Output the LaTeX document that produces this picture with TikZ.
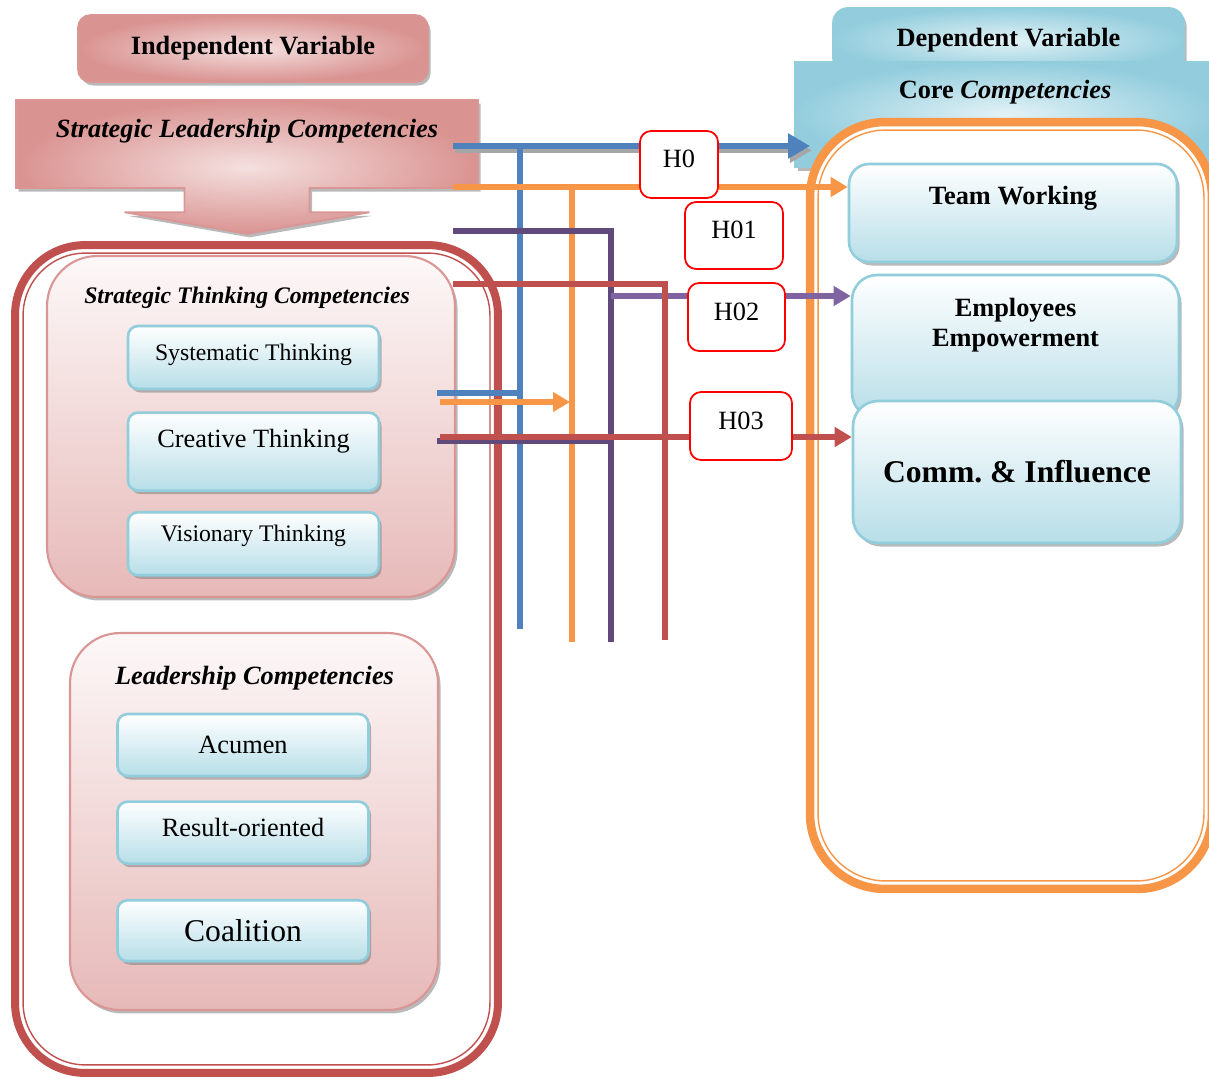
\documentclass[tikz,border=0pt]{standalone}
\usepackage{fontspec}
\setmainfont{Liberation Serif}
\usetikzlibrary{arrows.meta}
\usetikzlibrary{positioning}
\usetikzlibrary{calc}
\usetikzlibrary{shapes.arrows}
\usetikzlibrary{shadows}

\definecolor{pinkEdge}{HTML}{D99694}
\definecolor{pinkDark}{HTML}{D99391}
\definecolor{pinkLight}{HTML}{F4E0DF}
\definecolor{pinkTop}{HTML}{FDF8F8}
\definecolor{pinkBottom}{HTML}{E6B9B8}
\definecolor{frameRed}{HTML}{C0504D}
\definecolor{skyEdge}{HTML}{92CDDC}
\definecolor{skyBottom}{HTML}{B7DEE8}
\definecolor{skyDark}{HTML}{93CDDD}
\definecolor{skyLight}{HTML}{E2F2F6}
\definecolor{orangeLine}{HTML}{F79646}
\definecolor{lineBlue}{HTML}{4F81BD}
\definecolor{purpleDark}{HTML}{604A7B}
\definecolor{purpleLight}{HTML}{8064A2}

\begin{document}
\begin{tikzpicture}[
    x=0.02cm, y=-0.02cm,
    shadowed/.style={
        drop shadow={shadow xshift=1.5pt, shadow yshift=-2pt, fill=black!50, opacity=0.55}
    },
    headBox/.style={
        rectangle, draw=pinkEdge, line width=1pt, rounded corners=0.25cm,
        inner color=pinkLight, outer color=pinkDark, shadowed,
        font=\fontsize{15}{17}\selectfont\bfseries
    },
    leadArrow/.style={
        shape=arrow box, draw=pinkEdge, line width=1pt,
        inner color=pinkLight, outer color=pinkDark, shadowed,
        arrow box north arrow=0pt, arrow box east arrow=0pt,
        arrow box west arrow=0pt, arrow box south arrow=0.9cm,
        arrow box shaft width=2.5cm, arrow box head extend=1.2cm,
        arrow box tip angle=160,
        font=\fontsize{15}{17}\selectfont\bfseries\itshape
    },
    redFrame/.style={
        rectangle, draw=frameRed, line width=0.16cm, rounded corners=1.4cm,
        outer sep=0pt
    },
    orangeFrame/.style={
        rectangle, draw=orangeLine, fill=white, line width=0.17cm,
        rounded corners=1.5cm, outer sep=0pt
    },
    groupBox/.style={
        rectangle, draw=pinkEdge, line width=1.2pt, rounded corners=1cm,
        top color=pinkTop, bottom color=pinkBottom, shadowed
    },
    groupTitle/.style={font=\fontsize{15}{17}\selectfont\bfseries\itshape},
    skillBox/.style={
        rectangle, draw=skyEdge, line width=1.5pt, rounded corners=0.2cm,
        top color=white, bottom color=skyBottom, shadowed,
        minimum width=5.02cm, minimum height=1.26cm,
        font=\fontsize{15}{17}\selectfont
    },
    tabBox/.style={
        rectangle, draw=skyEdge, line width=1pt, rounded corners=0.3cm,
        inner color=skyLight, outer color=skyDark, shadowed,
        font=\fontsize{15}{17}\selectfont\bfseries
    },
    compBox/.style={
        rectangle, draw=skyEdge, line width=1.5pt, rounded corners=0.5cm,
        top color=white, bottom color=skyBottom, shadowed,
        font=\fontsize{15}{17}\selectfont\bfseries
    },
    hypoBox/.style={
        rectangle, draw=red, line width=1pt, rounded corners=0.22cm,
        fill=white, text depth=0.22cm,
        font=\fontsize{15}{17}\selectfont
    },
    link/.style={line width=0.12cm},
    bigHead/.style={-{Triangle[length=0.44cm,width=0.48cm]}},
    smallHead/.style={-{Triangle[length=0.34cm,width=0.38cm]}}
]
\useasboundingbox (0,0) rectangle (1209,1078);

% independent side
\node[headBox, minimum width=7cm, minimum height=1.34cm] (indVar) at (253,48.5) {Independent Variable};
\node[leadArrow, minimum width=9.24cm, minimum height=1.76cm,
      text height=0.37cm, text depth=0.65cm] (slc) at (247,144) {Strategic Leadership Competencies};

\node[redFrame, minimum width=9.66cm, minimum height=16.56cm] (ivFrame) at (256.5,659) {};
\draw[frameRed, line width=0.8pt, rounded corners=1.25cm]
    ([shift={(8,8)}]ivFrame.north west) rectangle ([shift={(-8,-8)}]ivFrame.south east);

\node[groupBox, minimum width=8.16cm, minimum height=6.82cm] (stBox) at (251,426.5) {};
\node[groupTitle, font=\fontsize{13.5}{16}\selectfont\bfseries\itshape] (stTitle) at (247,298) {Strategic Thinking Competencies};
\node[skillBox, font=\fontsize{13.5}{16}\selectfont, text height=0.33cm, text depth=0.21cm] (sysThink) at (253.5,357.5) {Systematic Thinking};
\node[skillBox, below=0.42cm of sysThink, minimum height=1.56cm, text height=0.36cm, text depth=0.52cm] (creThink) {Creative Thinking};
\node[skillBox, below=0.38cm of creThink, font=\fontsize{13.5}{16}\selectfont, text height=0.33cm, text depth=0.4cm] (visThink) {Visionary Thinking};

\node[groupBox, minimum width=7.36cm, minimum height=7.54cm] (ldBox) at (254,821.5) {};
\node[groupTitle] (ldTitle) at (254.5,678) {Leadership Competencies};
\node[skillBox, minimum height=1.24cm] (acumen) at (243,745) {Acumen};
\node[skillBox, below=0.46cm of acumen, minimum height=1.24cm, text depth=0.2cm] (result) {Result-oriented};
\node[skillBox, below=0.68cm of result, minimum height=1.22cm, font=\fontsize{18}{20}\selectfont] (coalition) {Coalition};

% dependent side
\node[tabBox, minimum width=7.02cm, minimum height=1.3cm] (depVar) at (1008.5,40.5) {Dependent Variable};
\node[tabBox, rounded corners=0pt, minimum width=8.4cm, minimum height=2.1cm,
      text height=0.36cm, text depth=1.0cm] (coreComp) at (1005,114.5) {Core \textit{Competencies}};

\node[orangeFrame, minimum width=8.04cm, minimum height=15.34cm] (ocFrame) at (1011,505.5) {};
\draw[orangeLine, line width=0.8pt, rounded corners=1.35cm]
    ([shift={(8,8)}]ocFrame.north west) rectangle ([shift={(-8,-8)}]ocFrame.south east);

\node[compBox, minimum width=6.56cm, minimum height=1.96cm, rounded corners=0.4cm,
      text height=0.4cm, text depth=0.76cm] (teamWork) at (1013,213) {Team Working};
\node[compBox, minimum width=6.54cm, minimum height=2.86cm, align=center,
      text height=1cm, text depth=1cm] (empower) at (1015.5,346.5) {Employees\\Empowerment};
\node[compBox, minimum width=6.56cm, minimum height=2.84cm,
      font=\fontsize{18}{20}\selectfont\bfseries] (commInf) at (1017,472) {Comm.\ \& Influence};

% connector points
\coordinate (blueA) at (453,146);
\coordinate (blueB) at (520,146);
\coordinate (blueC) at (520,629);
\coordinate (blueD) at (437,393);
\coordinate (blueE) at (520,393);
\coordinate (orangeA) at (453,187);
\coordinate (orangeB) at (572,187);
\coordinate (orangeC) at (572,642);
\coordinate (orangeD) at (440,402);
\coordinate (orangeE) at (570,402);
\coordinate (purpleA) at (453,231);
\coordinate (purpleB) at (611,231);
\coordinate (purpleC) at (611,642);
\coordinate (purpleD) at (437,441);
\coordinate (purpleE) at (611,441);
\coordinate (purpleF) at (611,296);
\coordinate (redA) at (453,284);
\coordinate (redB) at (665,284);
\coordinate (redC) at (665,640);
\coordinate (redD) at (440,437);

% links
\draw[link, black!35, bigHead, transform canvas={xshift=1pt, yshift=-2.5pt}] (blueA) -- (ocFrame.west |- blueA);
\draw[link, lineBlue, bigHead] (blueA) -- (ocFrame.west |- blueA);
\draw[link, lineBlue] (blueB) -- (blueC);
\draw[link, lineBlue] (blueD) -- (blueE);
\draw[link, orangeLine, smallHead] (orangeA) -- (teamWork.west |- orangeA);
\draw[link, orangeLine] (orangeB) -- (orangeC);
\draw[link, orangeLine, smallHead] (orangeD) -- (orangeE);
\draw[link, purpleDark] (purpleA) -- (purpleB) -- (purpleC);
\draw[link, purpleDark] (purpleD) -- (purpleE);
\draw[link, purpleLight, smallHead] (purpleF) -- (empower.west |- purpleF);
\draw[link, frameRed] (redA) -- (redB) -- (redC);
\draw[link, frameRed, smallHead] (redD) -- (commInf.west |- redD);

% hypotheses
\node[hypoBox, minimum width=1.56cm, minimum height=1.34cm] (hZero) at (679,164.5) {H0};
\node[hypoBox, minimum width=1.96cm, minimum height=1.34cm] (hOne) at (734,235.5) {H01};
\node[hypoBox, minimum width=1.94cm, minimum height=1.36cm] (hTwo) at (736.5,317) {H02};
\node[hypoBox, minimum width=2.04cm, minimum height=1.36cm] (hThree) at (741,426) {H03};
\end{tikzpicture}
\end{document}
